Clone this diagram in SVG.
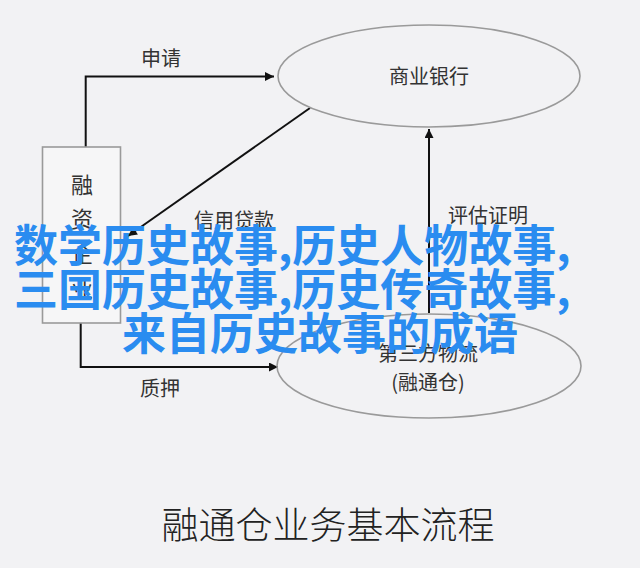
<svg xmlns="http://www.w3.org/2000/svg" width="640" height="568" viewBox="0 0 640 568">
<defs>
<marker id="ah" viewBox="0 0 10 10" refX="10" refY="5" markerWidth="10" markerHeight="9" markerUnits="userSpaceOnUse" orient="auto">
<path d="M0,0 L10,5 L0,10 z" fill="#111"/>
</marker>
<style>
.node{fill:none;stroke:#9a9a9a;stroke-width:1.6}
.box{fill:#f6f6f7;stroke:#9a9a9a;stroke-width:1.6}
.lbl{font-family:"Noto Sans CJK SC","Noto Sans",sans-serif;font-size:20px;fill:#333;text-anchor:middle}
.box-t{font-family:"Noto Sans CJK SC","Noto Sans",sans-serif;font-size:22px;fill:#333;text-anchor:middle}
.edge{fill:none;stroke:#111;stroke-width:2;marker-end:url(#ah)}
.edge0{fill:none;stroke:#111;stroke-width:2}
.title{font-family:"Noto Sans CJK SC","Noto Sans",sans-serif;font-size:37px;fill:#222;text-anchor:middle;font-weight:300}
.over{font-family:"Noto Sans CJK SC","Noto Sans",sans-serif;font-size:44px;fill:#2a8cf0;font-weight:bold}
</style>
</defs>
<rect width="640" height="568" fill="#f2f2f4"/>
<g id="connectors">
<path class="edge" d="M85.7,147 V76.5 H274"/>
<path class="edge" d="M310,108 L128,236"/>
<path class="edge" d="M429,313 V129"/>
<path class="edge" d="M80.7,323 V367 H278"/>
</g>
<g id="bank">
<ellipse class="node" cx="429" cy="76" rx="151" ry="51"/>
<text class="lbl" x="429" y="83.5">商业银行</text>
</g>
<g id="company">
<rect class="box" x="42.5" y="147" width="78" height="176"/>
<text class="box-t" x="82" y="193">融</text>
<text class="box-t" x="82" y="227">资</text>
<text class="box-t" x="82" y="262">企</text>
<text class="box-t" x="82" y="297">业</text>
</g>
<g id="logistics">
<ellipse class="node" cx="429" cy="366" rx="152" ry="52"/>
<text class="lbl" x="428" y="360.5">第三方物流</text>
<text class="lbl" x="428" y="389.5">(融通仓)</text>
</g>
<g id="labels">
<text class="lbl" x="161" y="65.5">申请</text>
<text class="lbl" x="234" y="227.5">信用贷款</text>
<text class="lbl" x="488" y="222.5">评估证明</text>
<text class="lbl" x="160" y="395.5">质押</text>
</g>
<text class="title" x="328" y="539">融通仓业务基本流程</text>
<g id="overlay">
<text class="over" x="14" y="262">数学历史故事,历史人物故事,</text>
<text class="over" x="14" y="306">三国历史故事,历史传奇故事,</text>
<text class="over" x="122" y="350">来自历史故事的成语</text>
</g>
</svg>
